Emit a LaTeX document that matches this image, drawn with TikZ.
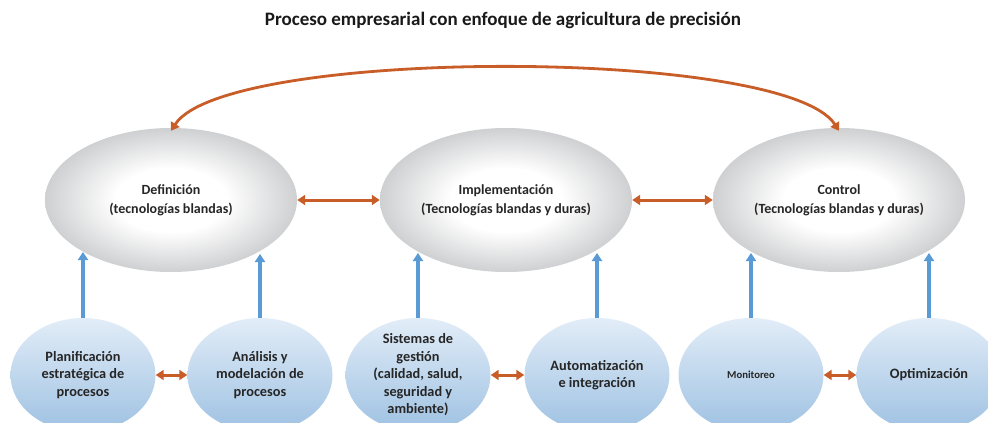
\documentclass[tikz,border=0pt]{standalone}
\usepackage{fontspec}
\setmainfont{Carlito}
\usetikzlibrary{arrows.meta,shapes.geometric}
\definecolor{arrorange}{RGB}{201,93,40}
\definecolor{arrblue}{RGB}{91,155,213}
\definecolor{grayedge}{RGB}{158,160,163}
\definecolor{graymid}{RGB}{200,201,203}
\definecolor{bluetop}{RGB}{226,237,248}
\definecolor{bluebot}{RGB}{158,193,226}
\pgfdeclareradialshading{bigshade}{\pgfpoint{0bp}{0bp}}{color(0bp)=(white); color(11bp)=(white); color(27bp)=(graymid); color(41bp)=(grayedge); color(50bp)=(grayedge)}
\tikzset{
  bigell/.style={ellipse, shading=bigshade, minimum width=252pt, minimum height=144pt, inner sep=0pt},
  smallell/.style={ellipse, top color=bluetop, bottom color=bluebot, minimum width=145pt, minimum height=114pt, inner sep=0pt},
  bigtext/.style={font=\bfseries\fontsize{14}{19}\selectfont, align=center, text=black!85},
  smalltext/.style={font=\bfseries\fontsize{14.3}{17.5}\selectfont, align=center, text=black!85},
  titletext/.style={font=\bfseries\fontsize{19}{21}\selectfont, text=black!90},
  orangearrow/.style={draw=arrorange, line width=3pt, {Triangle[length=8pt,width=10pt]}-{Triangle[length=8pt,width=10pt]}},
  arcarrow/.style={draw=arrorange, line width=2.8pt, {Triangle[length=8pt,width=10pt]}-{Triangle[length=8pt,width=10pt]}},
  bluearrow/.style={draw=arrblue, line width=3.2pt, -{Triangle[length=8pt,width=10pt]}},
}
\begin{document}
\begin{tikzpicture}[x=1pt,y=-1pt]
\useasboundingbox (0,0) rectangle (988,423);
\fill[white] (0,0) rectangle (988,423);
\clip (0,0) rectangle (988,423);

\node[titletext] (title) at (503,20) {Proceso empresarial con enfoque de agricultura de precisión};

% big ellipses
\node[bigell] (def) at (171,200) {};
\node[bigtext] (deft) at (def.center) {Definición\\(tecnologías blandas)};
\node[bigell] (imp) at (506,200) {};
\node[bigtext] (impt) at (imp.center) {Implementación\\(Tecnologías blandas y duras)};
\node[bigell] (ctl) at (839,200) {};
\node[bigtext] (ctlt) at (ctl.center) {Control\\(Tecnologías blandas y duras)};

% bottom ellipses
\node[smallell] (pla) at (83,375) {};
\node[smalltext] (plat) at (pla.center) {Planificación\\estratégica de\\procesos};
\node[smallell] (ana) at (260,375) {};
\node[smalltext] (anat) at (ana.center) {Análisis y\\modelación de\\procesos};
\node[smallell] (sis) at (418,375) {};
\node[smalltext] (sist) at (sis.center) {Sistemas de\\gestión\\(calidad, salud,\\seguridad y\\ambiente)};
\node[smallell] (aut) at (597,375) {};
\node[smalltext] (autt) at (aut.center) {Automatización\\e integración};
\node[smallell] (mon) at (751,375) {};
\node[smalltext, font=\bfseries\fontsize{10.7}{13}\selectfont] (mont) at (mon.center) {Monitoreo};
\node[smallell] (opt) at (929,375) {};
\node[smalltext] (optt) at (opt.center) {Optimización};

% horizontal orange arrows
\draw[orangearrow] (def.east) -- (imp.west);
\draw[orangearrow] (imp.east) -- (ctl.west);
\draw[orangearrow] (pla.east) -- (ana.west);
\draw[orangearrow] (sis.east) -- (aut.west);
\draw[orangearrow] (mon.east) -- (opt.west);

% top arc
\draw[arcarrow] ([yshift=-3pt]def.north) .. controls (225,47) and (785,47) .. ([yshift=-3pt]ctl.north);

% blue arrows
\draw[bluearrow] (pla.north) -- (pla.north |- 0,252);
\draw[bluearrow] (ana.north) -- (ana.north |- 0,254);
\draw[bluearrow] (sis.north) -- (sis.north |- 0,253);
\draw[bluearrow] (aut.north) -- (aut.north |- 0,253);
\draw[bluearrow] (mon.north) -- (mon.north |- 0,253);
\draw[bluearrow] (opt.north) -- (opt.north |- 0,253);
\end{tikzpicture}
\end{document}
